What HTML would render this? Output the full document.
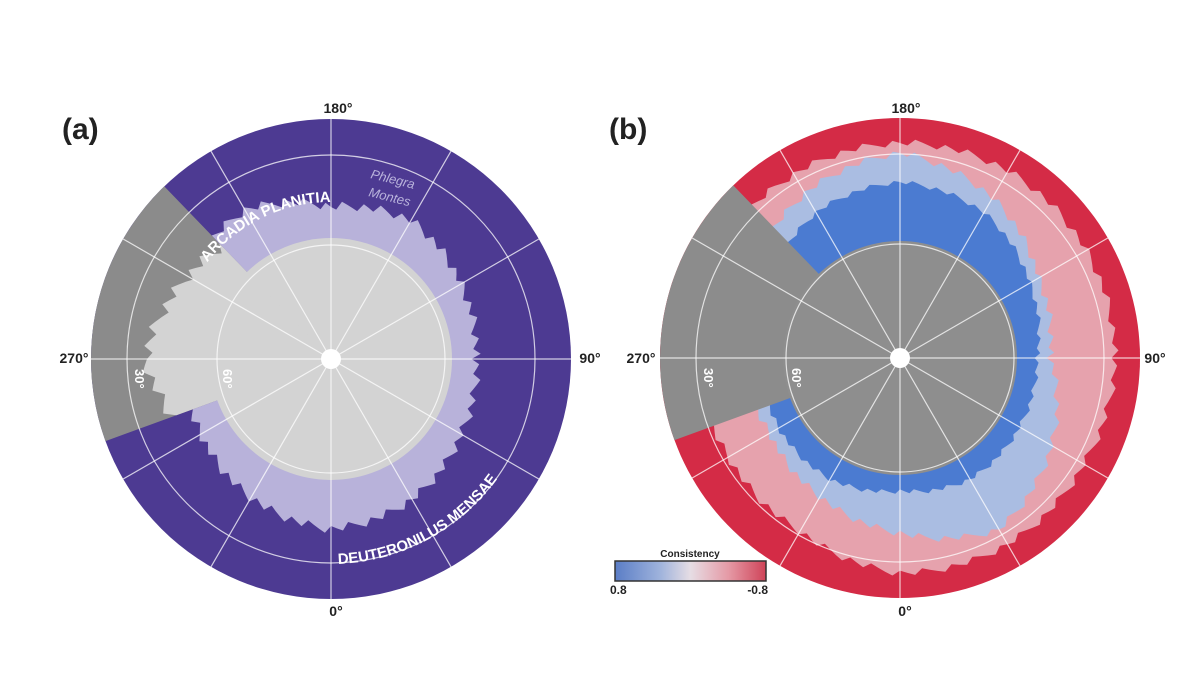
<!DOCTYPE html>
<html><head><meta charset="utf-8">
<style>
html,body{margin:0;padding:0;background:#fff;}
svg{display:block;font-family:"Liberation Sans",sans-serif;}
</style></head>
<body>
<svg id="fig" width="1200" height="675" viewBox="0 0 1200 675">
<defs>
<linearGradient id="cbar" x1="0" x2="1" y1="0" y2="0">
<stop offset="0" stop-color="#5a7dc6"/><stop offset="0.3" stop-color="#9fb3dc"/>
<stop offset="0.5" stop-color="#e6dde4"/><stop offset="0.75" stop-color="#e59aa6"/>
<stop offset="1" stop-color="#cf4358"/></linearGradient>
</defs>
<g id="panelA"></g>
<g id="panelB"></g>
<text x="62" y="139" font-size="30" font-weight="bold" fill="#222">(a)</text>
<text x="609" y="139" font-size="30" font-weight="bold" fill="#222">(b)</text>
<text x="338" y="113" font-size="14" font-weight="bold" text-anchor="middle" fill="#222">180°</text>
<text x="74" y="363" font-size="14" font-weight="bold" text-anchor="middle" fill="#222">270°</text>
<text x="590" y="363" font-size="14" font-weight="bold" text-anchor="middle" fill="#222">90°</text>
<text x="336" y="616" font-size="14" font-weight="bold" text-anchor="middle" fill="#222">0°</text>
<text x="906" y="113" font-size="14" font-weight="bold" text-anchor="middle" fill="#222">180°</text>
<text x="641" y="363" font-size="14" font-weight="bold" text-anchor="middle" fill="#222">270°</text>
<text x="1155" y="363" font-size="14" font-weight="bold" text-anchor="middle" fill="#222">90°</text>
<text x="905" y="616" font-size="14" font-weight="bold" text-anchor="middle" fill="#222">0°</text>
<g>
<text x="690" y="557" font-size="10" font-weight="bold" text-anchor="middle" fill="#222">Consistency</text>
<rect x="615" y="561" width="151" height="20" fill="url(#cbar)" stroke="#333" stroke-width="1.5"/>
<text x="610" y="594" font-size="12" font-weight="bold" fill="#222">0.8</text>
<text x="768" y="594" font-size="12" font-weight="bold" text-anchor="end" fill="#222">-0.8</text>
</g>
</svg>
<script>
const NS='http://www.w3.org/2000/svg';
// region radii (px) at screen angles 0,30,...,330 degrees (clockwise from +x)
const angles=[0,30,60,90,120,150,180,210,240,270,300,330];
const lavenderR=[145,150,162,170,160,150,150,165,172,152,160,150];
const iceSectorR=[120,120,120,120,120,160,186,165,150,120,120,120];
const redR=[240,240,240,240,240,240,240,240,240,240,240,240];
const pinkR=[215,212,215,215,200,198,205,210,212,215,216,215];
const lightBlueR=[150,175,198,175,160,150,160,170,190,205,185,160];
const blueR=[137,138,140,133,140,140,140,150,168,176,168,150];
const graySector=[160,226];
const gridLat=[114,204];
const lonLines=[0,30,60,90,120,150,180,210,240,270,300,330];

function el(tag,attrs,parent){const e=document.createElementNS(NS,tag);for(const k in attrs)e.setAttribute(k,attrs[k]);parent.appendChild(e);return e;}
function interp(arr,a){a=((a%360)+360)%360;const i=Math.floor(a/30),f=(a-i*30)/30;return arr[i]*(1-f)+arr[(i+1)%12]*f;}
function blob(cx,cy,arr,jit){let pts=[];for(let a=0;a<360;a+=2){let r=interp(arr,a)+(jit?((a*13)%7-3)*jit:0);const t=a*Math.PI/180;pts.push((cx+r*Math.cos(t)).toFixed(1)+','+(cy+r*Math.sin(t)).toFixed(1));}return pts.join(' ');}
function wedge(cx,cy,r,a0,a1){const t0=a0*Math.PI/180,t1=a1*Math.PI/180;return `M${cx},${cy} L${cx+r*Math.cos(t0)},${cy+r*Math.sin(t0)} A${r},${r} 0 0 1 ${cx+r*Math.cos(t1)},${cy+r*Math.sin(t1)} Z`;}
function grid(g,cx,cy){
  gridLat.forEach(r=>{const c=el('circle',{cx,cy,r,fill:'none',stroke:'#fff','stroke-opacity':0.75,'stroke-width':1.2},g);
    
    });
  lonLines.forEach(a=>{const t=a*Math.PI/180;const l=el('line',{x1:cx,y1:cy,x2:cx+240*Math.cos(t),y2:cy+240*Math.sin(t),stroke:'#fff','stroke-opacity':0.75,'stroke-width':1.2},g);
    
    });
  const d=el('circle',{cx,cy,r:10,fill:'#fff'},g);
  
  
  [[cx-196,'30°'],[cx-108,'60°']].forEach(([x,s])=>{const t=el('text',{x,y:cy+10,'font-size':13,'font-weight':'bold',fill:'#fff',transform:`rotate(90 ${x} ${cy+10})`},g);t.textContent=s;
    
    });
}
function clipPath(id,d){const cp=el('clipPath',{id},document.querySelector('defs'));el('path',{d},cp);}

// Panel A
(function(){
 const g=document.getElementById('panelA'),cx=331,cy=359;
 const s0=graySector[0]*Math.PI/180,s1=graySector[1]*Math.PI/180;
 clipPath('clipA',`M${cx},${cy} L${cx+300*Math.cos(s1)},${cy+300*Math.sin(s1)} A300,300 0 1 1 ${cx+300*Math.cos(s0)},${cy+300*Math.sin(s0)} Z`);
 clipPath('clipSecA',wedge(cx,cy,300,graySector[0],graySector[1]));
 let e=el('circle',{cx,cy,r:240,fill:'#4d3a92'},g);
 
 
 e=el('path',{d:wedge(cx,cy,240,graySector[0],graySector[1]),fill:'#8b8b8b'},g);
 
 
 e=el('polygon',{points:blob(cx,cy,lavenderR,1.5),fill:'#b8b2da','clip-path':'url(#clipA)'},g);
 
 
 e=el('circle',{cx,cy,r:121,fill:'#d3d3d3'},g);
 
 
 e=el('polygon',{points:blob(cx,cy,iceSectorR,2),fill:'#d3d3d3','clip-path':'url(#clipSecA)'},g);
 
 
 grid(g,cx,cy);
 const defs=document.querySelector('defs');
 const r1=157,a0=218*Math.PI/180,a1=287*Math.PI/180;
 el('path',{id:'arcArc',d:`M${cx+r1*Math.cos(a0)},${cy+r1*Math.sin(a0)} A${r1},${r1} 0 0 1 ${cx+r1*Math.cos(a1)},${cy+r1*Math.sin(a1)}`},defs);
 let t=el('text',{'font-size':15,'font-weight':'bold',fill:'#fff'},g);
 
 
 let tp=el('textPath',{href:'#arcArc'},t);tp.textContent='ARCADIA PLANITIA';
 const r2=205,b0=88*Math.PI/180,b1=28*Math.PI/180;
 el('path',{id:'deutArc',d:`M${cx+r2*Math.cos(b0)},${cy+r2*Math.sin(b0)} A${r2},${r2} 0 0 0 ${cx+r2*Math.cos(b1)},${cy+r2*Math.sin(b1)}`},defs);
 t=el('text',{'font-size':15,'font-weight':'bold',fill:'#fff'},g);
 
 
 tp=el('textPath',{href:'#deutArc'},t);tp.textContent='DEUTERONILUS MENSAE';
 t=el('text',{x:370,y:178,'font-size':13,'font-style':'italic',fill:'#b9b3dc',transform:'rotate(14 370 178)'},g);t.textContent='Phlegra';
 
 
 t=el('text',{x:368,y:196,'font-size':13,'font-style':'italic',fill:'#b9b3dc',transform:'rotate(14 368 196)'},g);t.textContent='Montes';
 
 
})();

// Panel B
(function(){
 const g=document.getElementById('panelB'),cx=900,cy=358;
 const layers=[[redR,'#d42b46','outer-red-ring',0],[pinkR,'#e6a2ad','pink-ring',1.2],[lightBlueR,'#aabde2','light-blue-ring',1.2],[blueR,'#4b7bd1','blue-ring',0.8]];
 layers.forEach(([arr,c,n,j])=>{const e=el('polygon',{points:blob(cx,cy,arr,j),fill:c},g);
   
   });
 let e=el('path',{d:wedge(cx,cy,240,graySector[0],graySector[1]),fill:'#8c8c8c'},g);
 
 
 e=el('circle',{cx,cy,r:117,fill:'#8e8e8e'},g);
 
 
 grid(g,cx,cy);
})();
</script>
</body></html>
